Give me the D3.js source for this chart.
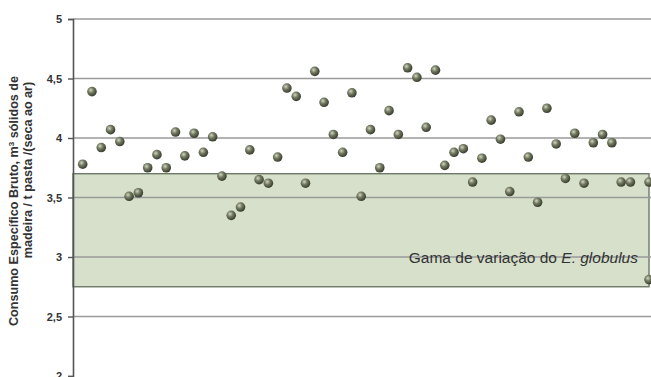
<!DOCTYPE html>
<html><head><meta charset="utf-8">
<script src="https://cdn.jsdelivr.net/npm/d3@7/dist/d3.min.js"></script>
<style>body{margin:0;background:#fff}svg{display:block}</style>
</head><body>
<script>
const sampleIndex = [1,2,3,4,5,6,7,8,9,10,11,12,13,14,15,16,17,18,19,20,21,22,23,24,25,26,27,28,29,30,31,32,33,34,35,36,37,38,39,40,41,42,43,44,45,46,47,48,49,50,51,52,53,54,55,56,57,58,59,60,62,62];
const consumo = [3.78,4.39,3.92,4.07,3.97,3.51,3.54,3.75,3.86,3.75,4.05,3.85,4.04,3.88,4.01,3.68,3.35,3.42,3.90,3.65,3.62,3.84,4.42,4.35,3.62,4.56,4.30,4.03,3.88,4.38,3.51,4.07,3.75,4.23,4.03,4.59,4.51,4.09,4.57,3.77,3.88,3.91,3.63,3.83,4.15,3.99,3.55,4.22,3.84,3.46,4.25,3.95,3.66,4.04,3.62,3.96,4.03,3.96,3.63,3.63,3.63,2.81];
const yTicks = [2,2.5,3,3.5,4,4.5,5];
const bandRange = [2.75,3.70];
const yTitleLines = ["Consumo Específico Bruto, m", "madeira / t pasta /(seca ao ar)"];
const bandLabel = "Gama de variação do ";
const bandLabelItalic = "E. globulus";

const W = 651, H = 377;
const svg = d3.select("body").append("svg").attr("width", W).attr("height", H);
const mLeft = 73, mRight = 651, mTop = 19, mBottom = 376;
const x = d3.scaleLinear().domain([0, 62]).range([mLeft + 0.4, 649]);
const y = d3.scaleLinear().domain([2, 5]).range([mBottom, mTop]);

const defs = svg.append("defs");
const g = defs.append("radialGradient").attr("id","ball").attr("cx","38%").attr("cy","35%").attr("r","65%");
g.append("stop").attr("offset","0%").attr("stop-color","#d2d6c4");
g.append("stop").attr("offset","45%").attr("stop-color","#737a60");
g.append("stop").attr("offset","100%").attr("stop-color","#383d2f");

// band
svg.append("rect")
  .attr("x", mLeft).attr("y", y(bandRange[1]))
  .attr("width", 649 - mLeft).attr("height", y(bandRange[0]) - y(bandRange[1]))
  .attr("fill", "#d6e0cb").attr("stroke", "#6e7866").attr("stroke-width", 1.4);

// gridlines
svg.append("g").selectAll("line").data(yTicks.filter(d => d > 2)).join("line")
  .attr("x1", mLeft).attr("x2", mRight)
  .attr("y1", d => y(d)).attr("y2", d => y(d))
  .attr("stroke", "#9a9a9a").attr("stroke-width", 1.5);

// axis
const axis = d3.axisLeft(y).tickValues(yTicks).tickSize(5).tickPadding(6)
  .tickFormat(d => d3.format("")(d).replace(".", ","));
const ax = svg.append("g").attr("transform", `translate(${mLeft},0)`).call(axis);
ax.select(".domain").attr("stroke", "#555").attr("stroke-width", 1.6);
ax.selectAll(".tick line").attr("stroke", "#555").attr("stroke-width", 1.4);
ax.selectAll(".tick text").attr("font-family", "Liberation Sans, Arial, sans-serif")
  .attr("font-size", 11).attr("font-weight", "bold").attr("fill", "#333");

// y title
const font = "Liberation Sans, Arial, sans-serif";
const t1 = svg.append("text")
  .attr("transform", "translate(18,201) rotate(-90)")
  .attr("text-anchor", "middle")
  .attr("font-family", font)
  .attr("font-size", 12.6).attr("font-weight", "bold").attr("fill", "#333");
t1.append("tspan").text(yTitleLines[0]);
t1.append("tspan").attr("font-size", 8).attr("dy", -4.5).text("3");
t1.append("tspan").attr("dy", 4.5).text(" sólidos de");
svg.append("text")
  .attr("transform", "translate(31.5,170) rotate(-90)")
  .attr("text-anchor", "middle")
  .attr("font-family", font)
  .attr("font-size", 12.6).attr("font-weight", "bold").attr("fill", "#333")
  .text(yTitleLines[1]);

// band label
const bl = svg.append("text")
  .attr("x", 638).attr("y", y(3) + 5.5)
  .attr("text-anchor", "end")
  .attr("font-family", font)
  .attr("font-size", 15.5).attr("fill", "#333");
bl.append("tspan").text(bandLabel);
bl.append("tspan").attr("font-style", "italic").text(bandLabelItalic);

// points
svg.append("g").selectAll("circle").data(consumo.map((v, i) => [sampleIndex[i], v])).join("circle")
  .attr("cx", d => x(d[0])).attr("cy", d => y(d[1])).attr("r", 4.8)
  .attr("fill", "url(#ball)");
</script>
</body></html>
